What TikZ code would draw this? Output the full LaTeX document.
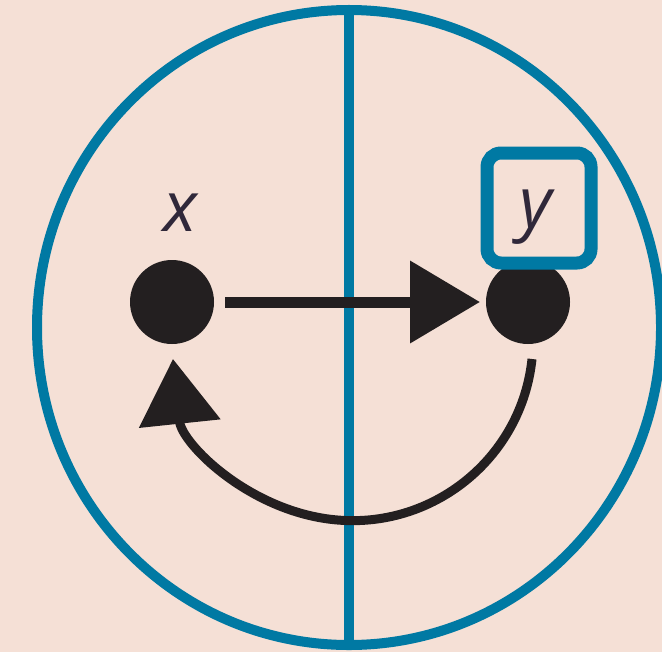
\documentclass[tikz,border=0pt]{standalone}
\usepackage{fontspec}
\newfontfamily\labelfont{Open Sans}
\usetikzlibrary{arrows.meta,positioning,shapes.geometric}
\definecolor{paper}{RGB}{245,224,214}
\definecolor{rim}{RGB}{0,121,163}
\definecolor{ink}{RGB}{35,31,32}
\definecolor{lettr}{RGB}{48,40,58}
\tikzset{
  disc/.style={draw=rim,line width=1mm,ellipse,inner sep=0pt,outer sep=0pt,
    minimum width=62.4mm,minimum height=63.5mm},
  divider/.style={draw=rim,line width=1mm},
  dot/.style={circle,fill=ink,inner sep=0pt,outer sep=0pt,minimum size=8.4mm},
  lbl/.style={font=\labelfont\itshape\fontsize{20pt}{24pt}\selectfont,
    text=lettr,inner sep=0pt},
  ybox/.style={draw=rim,line width=1.3mm,rounded corners=1.4mm,inner sep=0pt,
    outer sep=0pt,minimum width=10.4mm,minimum height=11mm},
  arr/.style={-{Triangle[length=7mm,width=8mm]},line width=1.1mm,ink},
  back/.style={-{Triangle[length=6.5mm,width=8mm]},line width=0.9mm,ink},
}

\begin{document}
\begin{tikzpicture}
  \fill[paper] (0,0) rectangle (6.62,6.52);
  \useasboundingbox (0,0) rectangle (6.62,6.52);
  % circle and divider
  \node[disc] (disc) at (3.49,3.245) {};
  \draw[divider] (disc.north) -- (disc.south);
  % points
  \node[dot] (xpt) at (1.72,3.50) {};
  \node[dot] (ypt) at (5.28,3.50) {};
  \node[lbl,above=2.8mm of xpt,xshift=0.8mm] (xlab) {x};
  \node[lbl,above=1.5mm of ypt,xshift=0.8mm] (ylab) {y};
  \node[ybox,above=-0.3mm of ypt,xshift=1.1mm] (yframe) {};
  % arrows
  \draw[arr,shorten >=0.6mm,shorten <=1.1mm] (xpt) -- (ypt);
  \draw[back] ([xshift=0.4mm,yshift=-1.5mm]ypt.south)
    arc[start angle=-6,end angle=-174,radius=1.805];
\end{tikzpicture}
\end{document}
